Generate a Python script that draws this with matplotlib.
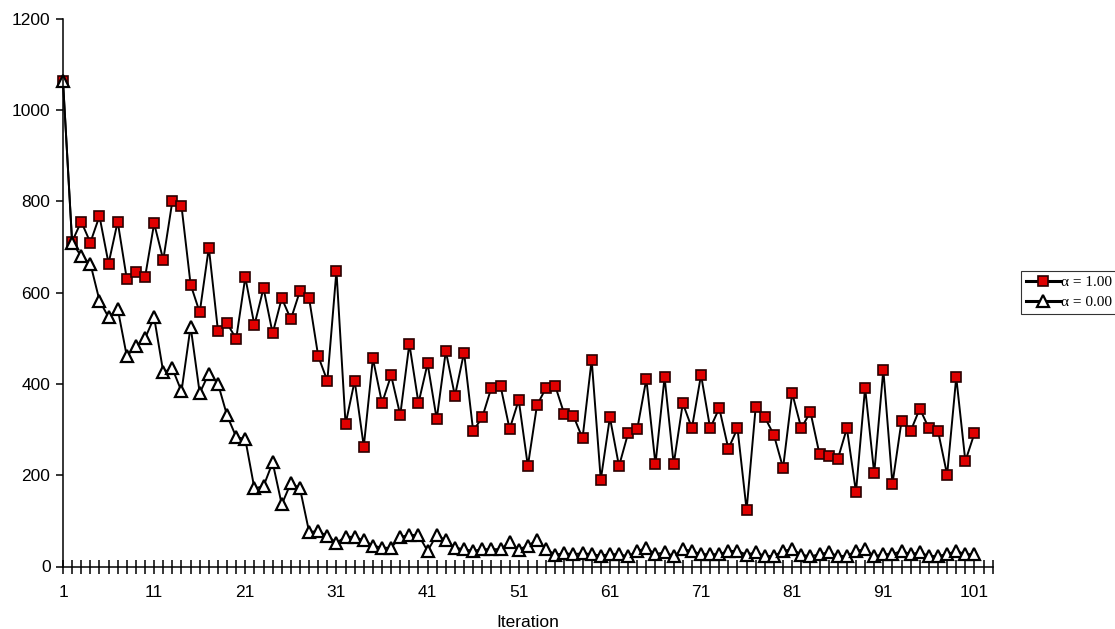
import matplotlib.pyplot as plt
import numpy as np

# Valeurs (101 itérations)
iterations = np.arange(1, 102)

alpha_100 = [1064, 712, 756, 710, 768, 664, 756, 630, 646, 634,
             752, 672, 801, 790, 618, 557, 699, 517, 533, 499,
             634, 529, 610, 511, 588, 542, 604, 588, 461, 407,
             648, 312, 407, 263, 456, 358, 419, 332, 488, 358,
             445, 323, 472, 374, 469, 297, 327, 392, 396, 301,
             365, 220, 353, 392, 396, 334, 330, 281, 453, 190,
             327, 220, 292, 301, 411, 224, 415, 224, 358, 303,
             420, 303, 347, 258, 303, 124, 350, 327, 288, 216,
             380, 303, 339, 246, 242, 235, 303, 163, 392, 204,
             431, 181, 319, 297, 346, 303, 297, 201, 415, 231,
             292]

alpha_000 = [1064, 710, 680, 664, 583, 546, 565, 461, 483, 500,
             546, 426, 434, 384, 526, 380, 423, 401, 331, 284,
             279, 171, 176, 228, 136, 183, 171, 76, 77, 67,
             52, 65, 65, 57, 46, 41, 41, 65, 69, 69,
             34, 69, 57, 41, 38, 34, 38, 38, 38, 53,
             37, 46, 57, 38, 26, 29, 27, 29, 27, 24,
             27, 27, 22, 34, 40, 27, 31, 23, 38, 34,
             27, 27, 27, 34, 34, 26, 31, 23, 23, 34,
             38, 26, 22, 27, 31, 23, 23, 34, 38, 22,
             27, 27, 34, 27, 31, 23, 23, 27, 34, 27,
             27]

labels = ['\u03b1 = 1.00', '\u03b1 = 0.00']

plt.rcParams['font.family'] = 'Liberation Sans'

fig = plt.figure(figsize=(11.15, 6.29), dpi=100)
ax = fig.add_axes([63 / 1115, 1 - 566.5 / 629, (992.7 - 63) / 1115, (566.5 - 19) / 629])

ax.plot(iterations, alpha_100, color='black', lw=1.4, marker='s', ms=7,
        mfc='#e00000', mec='#2a0000', mew=1.2, label=labels[0], clip_on=False)
ax.plot(iterations, alpha_000, color='black', lw=1.4, marker='^', ms=8,
        mfc='white', mec='black', mew=1.6, label=labels[1], clip_on=False)

ax.set_xlim(1, 103)
ax.set_ylim(0, 1200)
ax.set_yticks(range(0, 1201, 200))
xt = np.arange(1, 104)
ax.set_xticks(xt)
ax.set_xticklabels([str(v) if (v - 1) % 10 == 0 else '' for v in xt])

for s in ['top', 'right']:
    ax.spines[s].set_visible(False)
for s in ['left', 'bottom']:
    ax.spines[s].set_linewidth(1.1)

ax.tick_params(axis='y', direction='out', length=5, width=1.1, labelsize=12.5, pad=4)
ax.tick_params(axis='x', direction='inout', length=10, width=1.1, labelsize=12.5, pad=8)
ax.set_xlabel('Iteration', fontsize=12.5, labelpad=11)

leg = fig.legend(loc='upper left', bbox_to_anchor=(1021 / 1115, 1 - 271 / 629),
                 prop={'family': 'Liberation Serif', 'size': 11},
                 frameon=True, fancybox=False, edgecolor='black',
                 handlelength=2.3, handletextpad=0.05, borderpad=0.3,
                 labelspacing=0.4, borderaxespad=0)
leg.get_frame().set_linewidth(0.8)
for h in leg.get_lines():
    h.set_linewidth(2.2)

plt.savefig('out.png', dpi=100)
